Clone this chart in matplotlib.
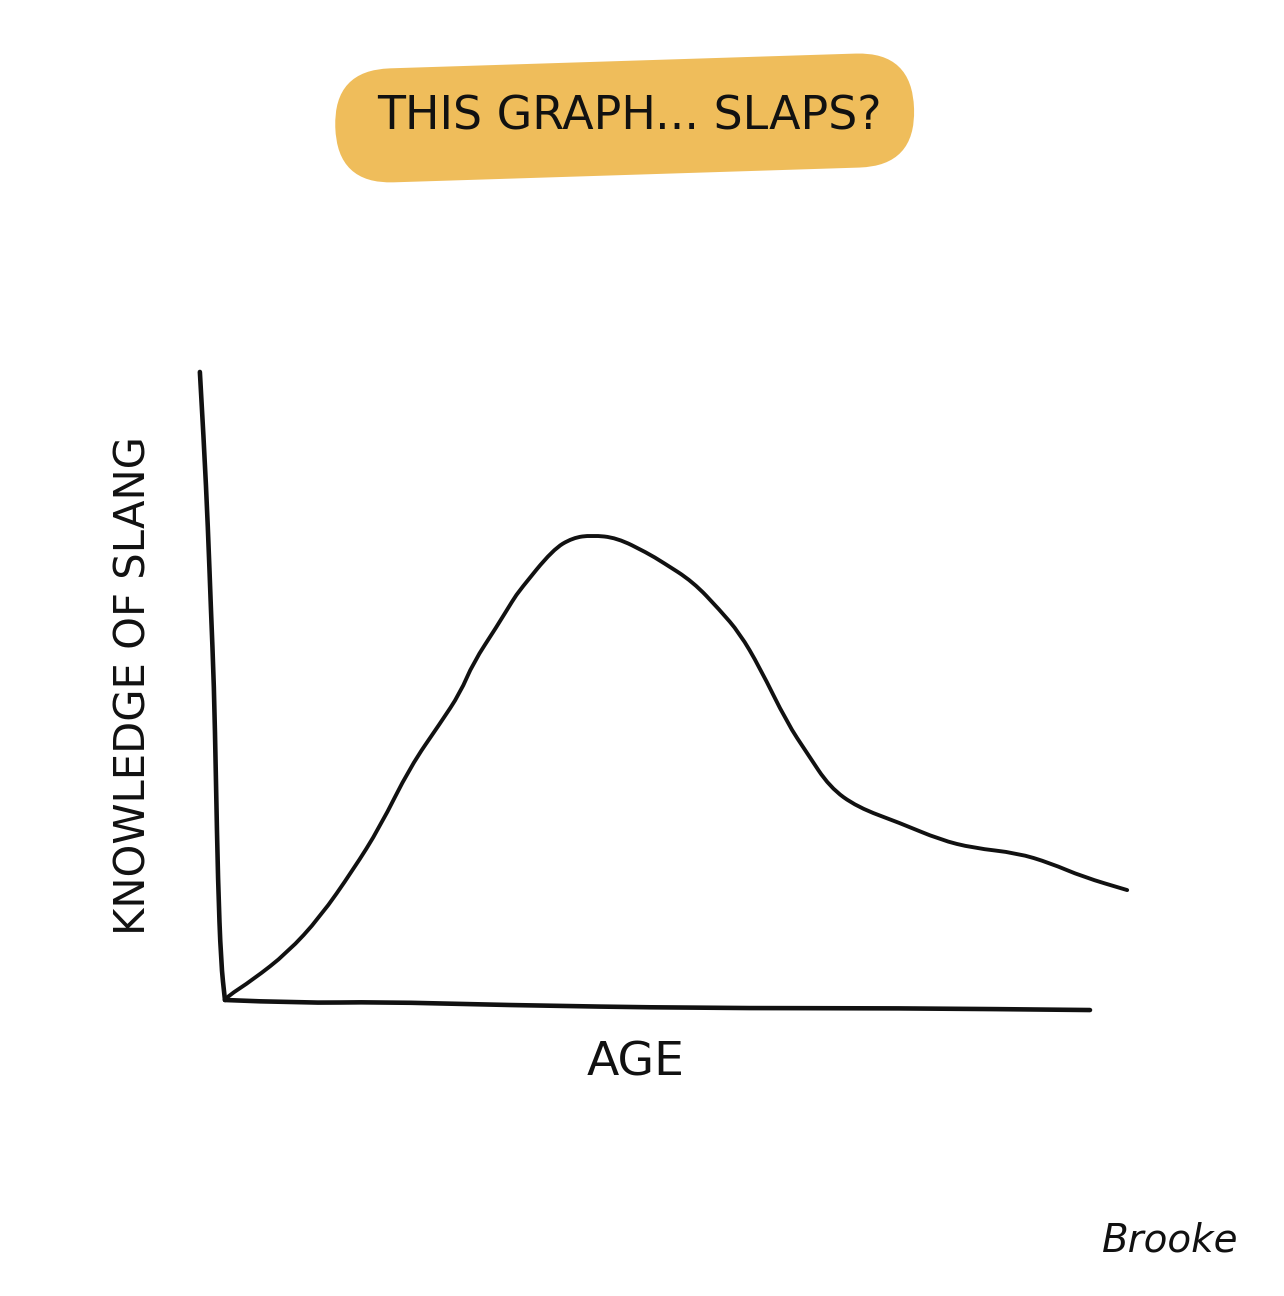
import matplotlib
matplotlib.use('Agg')
import matplotlib.pyplot as plt
from matplotlib.patches import FancyBboxPatch, PathPatch
from matplotlib.path import Path
from matplotlib.transforms import Affine2D

# Datos (edad 0-100, conocimiento 0-100)
edad = [0.0, 0.2, 3.2, 7.2, 11.0, 14.8, 17.9, 21.4, 24.9, 27.2, 28.7, 31.4, 33.3,
        34.1, 37.9, 40.2, 42.4, 45.3, 48.8, 50.6, 54.1, 57.2, 59.5, 61.8, 65.0,
        67.3, 69.9, 73.1, 78.0, 82.7, 86.5, 91.6, 95.4, 99.2, 104.3]
conocimiento = [0.0, 0.5, 3.2, 7.5, 13.2, 20.7, 27.5, 37.1, 44.1, 48.9, 53.7, 59.4, 63.7,
                65.3, 71.7, 73.6, 74.0, 73.6, 71.2, 69.7, 66.6, 62.1, 58.4, 53.0, 44.1,
                39.3, 33.9, 30.7, 28.2, 25.5, 24.2, 23.4, 21.8, 19.6, 17.5]

# ejes dibujados "a mano"
ejeY_x = [-2.9, -2.43, -1.97, -1.62, -1.27, -1.04, -0.81, -0.46, 0.0]
ejeY_y = [100, 88.7, 75.3, 62.1, 50.2, 35.0, 19.1, 5.9, 0.0]
ejeX_x = [0.0, 8.7, 17.9, 31.8, 54.9, 78.0, 100]
ejeX_y = [0.0, -0.5, -0.3, -0.8, -1.3, -1.3, -1.6]

titulo = "THIS GRAPH... SLAPS?"
etiquetaX = "AGE"
etiquetaY = "KNOWLEDGE OF SLANG"
firma = "Brooke"

amarillo = "#EFBD5B"
tinta = "#111111"


def trazoSuave(ax, xs, ys, lw):
    # curva cuadratica por los puntos medios, para que parezca dibujada a mano
    pts = list(zip(xs, ys))
    verts = [pts[0]]
    codes = [Path.MOVETO]
    for i in range(1, len(pts) - 1):
        medio = ((pts[i][0] + pts[i + 1][0]) / 2, (pts[i][1] + pts[i + 1][1]) / 2)
        verts += [pts[i], medio]
        codes += [Path.CURVE3, Path.CURVE3]
    verts.append(pts[-1])
    codes.append(Path.LINETO)
    trazo = PathPatch(Path(verts, codes), fill=False, ec=tinta, lw=lw,
                      capstyle='round', joinstyle='round', clip_on=False)
    ax.add_patch(trazo)


fig = plt.figure(figsize=(12.84, 12.96), dpi=100)
fig.patch.set_facecolor('white')

ax = fig.add_axes([0.1752, 0.2284, 0.6737, 0.4846])
ax.set_xlim(0, 100)
ax.set_ylim(0, 100)
ax.axis('off')

trazoSuave(ax, ejeY_x, ejeY_y, 3.3)
trazoSuave(ax, ejeX_x, ejeX_y, 3.3)
trazoSuave(ax, edad, conocimiento, 2.8)

# mancha amarilla del titulo
giro = Affine2D().rotate_deg_around(0.487, 0.909, 1.8)
mancha = FancyBboxPatch((0.261, 0.865), 0.451, 0.088,
                        boxstyle="round,pad=0,rounding_size=0.044",
                        transform=giro + fig.transFigure, fc=amarillo, ec='none')
fig.patches.append(mancha)
fig.text(0.490, 0.910, titulo, ha='center', va='center', fontsize=33, color=tinta)

fig.text(0.4953, 0.1798, etiquetaX, ha='center', va='center', fontsize=34, color=tinta)
fig.text(0.1036, 0.4707, etiquetaY, ha='center', va='center', rotation=90, fontsize=30, color=tinta)
fig.text(0.911, 0.0432, firma, ha='center', va='center', fontsize=28, style='italic', color=tinta)

fig.savefig('out.png', dpi=100)
